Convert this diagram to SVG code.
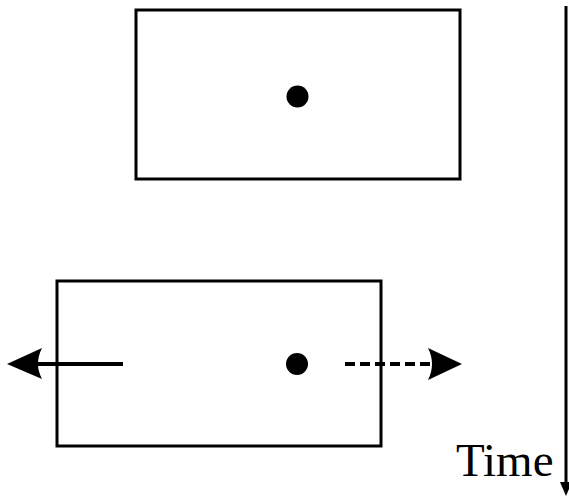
<svg xmlns="http://www.w3.org/2000/svg" width="569" height="497" viewBox="0 0 569 497">
<style>
.box{fill:none;stroke:#000;stroke-width:3}
.dot{fill:#000}
.line{stroke:#000;stroke-width:4;fill:none}
.dash{stroke-dasharray:10 5}
.head{fill:#000}
</style>
<rect width="569" height="497" fill="#fff"/>
<g id="top-frame">
<rect class="box" x="136" y="10" width="324" height="169"/>
<circle class="dot" cx="297.5" cy="96.5" r="11"/>
</g>
<g id="bottom-frame">
<rect class="box" x="57" y="281" width="324" height="165"/>
<circle class="dot" cx="297" cy="364" r="11"/>
</g>
<g id="connectors">
<line class="line" x1="123" y1="364" x2="38" y2="364"/>
<path class="head" d="M7,364 L42,348 Q34,364 42,379 Z"/>
<line class="line dash" x1="345" y1="364" x2="433" y2="364"/>
<path class="head" d="M462,364 L428,348 Q436,364 428,380 Z"/>
<line stroke="#000" stroke-width="3" x1="566" y1="6" x2="566" y2="486"/>
<path class="head" d="M566,496 L560,482 L572,482 Z"/>
</g>
<g id="time-label">
<text x="456" y="476" font-family="Liberation Serif, serif" font-size="47">Time</text>
</g>
</svg>
